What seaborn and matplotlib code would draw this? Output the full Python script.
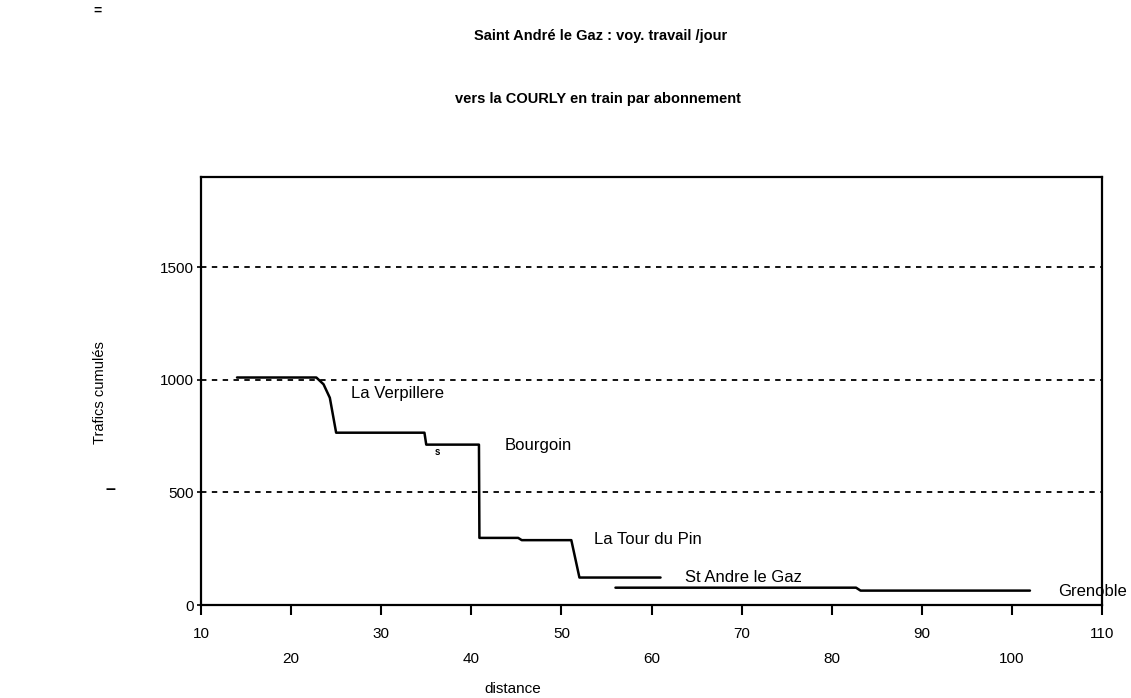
import matplotlib
matplotlib.use("Agg")
import matplotlib.pyplot as plt
import seaborn as sns
import pandas as pd

# ---- data ----
main_x = [14.0, 22.8, 23.6, 24.3, 25.0, 34.8, 35.0, 40.85, 40.9, 45.2, 45.6, 51.1, 52.0, 61.0]
main_y = [1010, 1010, 980, 920, 765, 765, 712, 712, 298, 298, 288, 288, 122, 122]
lower_x = [56.0, 82.7, 83.2, 102.0]
lower_y = [77, 77, 64, 64]

station_names = ["La Verpillere", "Bourgoin", "La Tour du Pin", "St Andre le Gaz", "Grenoble"]
station_x = [26.7, 43.7, 53.6, 63.7, 105.1]
station_y = [940, 708, 290, 124, 62]

x_ticks = [10, 20, 30, 40, 50, 60, 70, 80, 90, 100, 110]
y_ticks = [0, 500, 1000, 1500]
grid_levels = [500, 1000, 1500]

title = "Saint André le Gaz : voy. travail /jour"
subtitle = "vers la COURLY en train par abonnement"
xlabel = "distance"
ylabel = "Trafics cumulés"

# ---- plot ----
sns.set_theme(style="white")
plt.rcParams['font.family'] = ['Liberation Sans', 'DejaVu Sans']
plt.rcParams['text.color'] = 'black'
plt.rcParams['axes.labelcolor'] = 'black'
plt.rcParams['xtick.color'] = 'black'
plt.rcParams['ytick.color'] = 'black'

fig = plt.figure(figsize=(11.31, 6.98), dpi=100)
ax = fig.add_axes([0.1777, 0.1332, 0.9744 - 0.1777, 0.7464 - 0.1332])

df_main = pd.DataFrame({"x": main_x, "y": main_y})
df_low = pd.DataFrame({"x": lower_x, "y": lower_y})
sns.lineplot(data=df_main, x="x", y="y", sort=False, color="black", lw=1.8, ax=ax)
sns.lineplot(data=df_low, x="x", y="y", sort=False, color="black", lw=1.8, ax=ax)

for g in grid_levels:
    ax.axhline(g, color="black", lw=1.3, ls=(0, (3, 3)), zorder=1)

ax.set_xlim(10, 110)
ax.set_ylim(0, 1900)
ax.set_xticks(x_ticks)
ax.set_xticklabels([str(t) for t in x_ticks], fontsize=11)
ax.set_yticks(y_ticks)
ax.set_yticklabels([str(t) for t in y_ticks], fontsize=11)
ax.tick_params(axis="x", direction="out", length=7, width=1.5, colors="black", bottom=True, pad=9)
ax.tick_params(axis="y", direction="out", length=3, width=1.2, colors="black", left=True, pad=2)
for i, tick in enumerate(ax.xaxis.get_major_ticks()):
    if i % 2 == 1:
        tick.set_pad(27)

for s in ax.spines.values():
    s.set_visible(True)
    s.set_color("black")
    s.set_linewidth(1.6)

ax.set_xlabel("")
ax.set_ylabel("")

for name, sx, sy in zip(station_names, station_x, station_y):
    ax.text(sx, sy, name, fontsize=12, ha="left", va="center", clip_on=False, color="black")
ax.text(36.2, 680, "s", fontsize=7, fontweight="bold", ha="center", va="center", color="black")

fig.text(0.531, 0.948, title, fontsize=10.5, fontweight="bold", ha="center", va="center")
fig.text(0.529, 0.858, subtitle, fontsize=10.5, fontweight="bold", ha="center", va="center")
fig.text(0.453, 0.013, xlabel, fontsize=11, ha="center", va="center")
fig.text(0.088, 0.438, ylabel, fontsize=10.5, ha="center", va="center", rotation=90)
fig.text(0.0975, 0.298, "–", fontsize=13, fontweight="bold", ha="center", va="center")
fig.text(0.0858, 0.984, "=", fontsize=10, fontweight="bold", ha="center", va="center")

fig.savefig("out.png", dpi=100)
